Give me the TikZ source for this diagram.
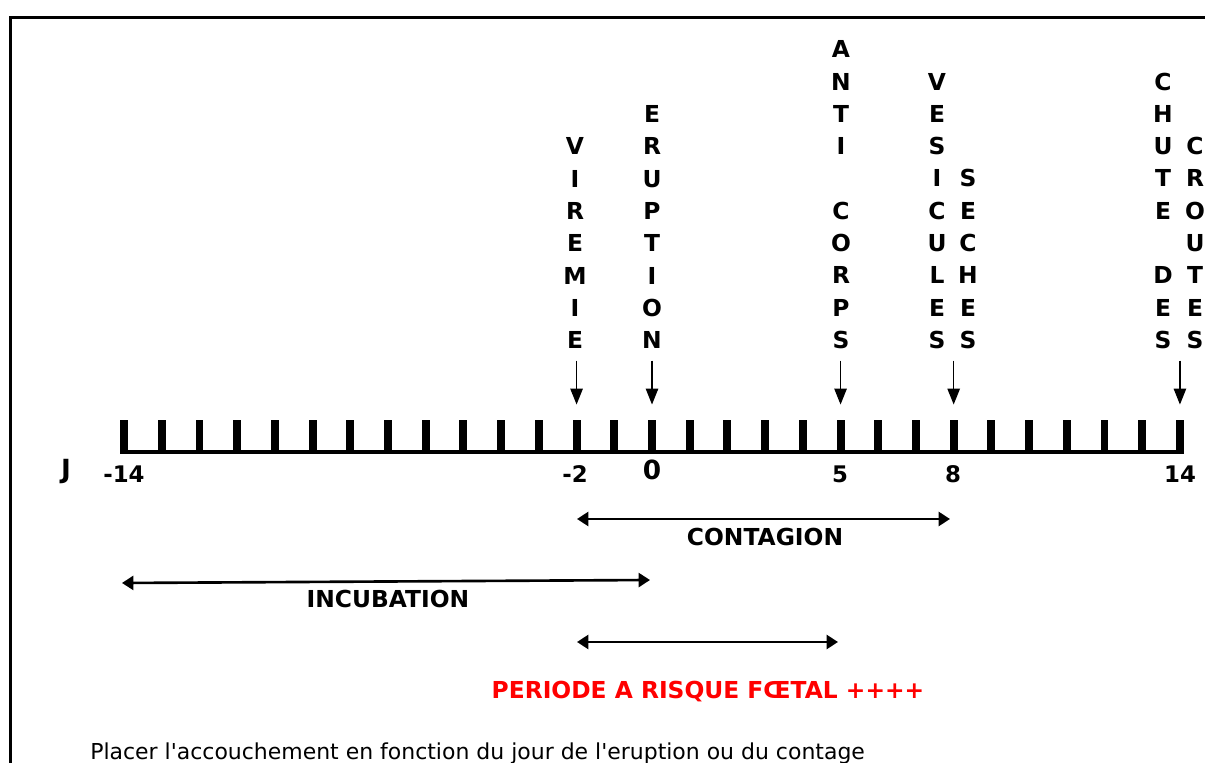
\documentclass[tikz,border=0pt]{standalone}
\usepackage{fontspec}
\setmainfont{DejaVu Sans}
\usetikzlibrary{arrows.meta}

\begin{document}
\begin{tikzpicture}[x=0.02cm, y=-0.02cm,
        vword/.style={font=\bfseries\fontsize{13.3}{18.37}\selectfont, align=center, inner sep=0pt, anchor=south},
        daylabel/.style={font=\bfseries\fontsize{13}{15}\selectfont, inner sep=0pt},
        bigday/.style={font=\bfseries\fontsize{15}{17}\selectfont, inner sep=0pt},
        tickmark/.style={line width=4.5pt},
        pointer/.style={line width=0.85pt, -{Triangle[length=9pt, width=7pt]}},
        span/.style={line width=1.5pt, {Triangle[length=6.5pt, width=8pt]}-{Triangle[length=6.5pt, width=8pt]}},
        spanlabel/.style={font=\bfseries\fontsize{13.3}{15}\selectfont, inner sep=0pt}
    ]
    \useasboundingbox (0,0) rectangle (1205,763);

    % Cadre
    \draw[line width=1.7pt] (10.7,763) -- (10.7,17.5) -- (1205,17.5);

    % Axe des jours
    \foreach \d in {-14,...,14}
        \coordinate (d\d) at ({652+37.71*\d},452);
    \draw[line width=2.8pt] ([xshift=-2.3pt]d-14) -- ([xshift=2.3pt]d14);
    \foreach \d in {-14,...,14}
        \draw[tickmark] (d\d) -- ++(0,-32);

    % Jours
    \node[bigday] (jour) at (66,472) {J};
    \node[daylabel] (lm14) at (124,474) {-14};
    \node[daylabel] (lm2) at (575,474) {-2};
    \node[bigday] (l0) at (652,470) {0};
    \node[daylabel] (l5) at (840,474) {5};
    \node[daylabel] (l8) at (953,474) {8};
    \node[daylabel] (l14) at (1180,474) {14};

    % Mots verticaux
    \node[vword] (vir) at (575,349) {V\\I\\R\\E\\M\\I\\E};
    \node[vword] (erup) at (652,349) {E\\R\\U\\P\\T\\I\\O\\N};
    \node[vword] (anti) at (841,349) {A\\N\\T\\I\\~\\C\\O\\R\\P\\S};
    \node[vword] (vesi) at (937,349) {V\\E\\S\\I\\C\\U\\L\\E\\S};
    \node[vword] (sech) at (968,349) {S\\E\\C\\H\\E\\S};
    \node[vword] (chut) at (1163,349) {C\\H\\U\\T\\E\\~\\D\\E\\S};
    \node[vword] (crou) at (1195,349) {C\\R\\O\\U\\T\\E\\S};

    % Fleches vers l'axe
    \foreach \d in {-2,0,5,8,14}
        \draw[pointer] ([yshift=52pt]d\d) -- ([yshift=27pt]d\d);

    % Periodes
    \coordinate (contL) at (577,519);
    \coordinate (contR) at (950,519);
    \draw[span] (contL) -- (contR);
    \node[spanlabel] (cont) at (765,537) {CONTAGION};

    \coordinate (incuL) at (122,583);
    \coordinate (incuR) at (650,580);
    \draw[span] (incuL) -- (incuR);
    \node[spanlabel] (incu) at (388,599) {INCUBATION};

    \coordinate (risqL) at (577,642);
    \coordinate (risqR) at (838,642);
    \draw[span] (risqL) -- (risqR);
    \node[spanlabel, text=red] (risq) at (708,692) {PERIODE A RISQUE FŒTAL ++++};

    % Note
    \node[font=\fontsize{12.5}{15}\selectfont, anchor=base west, inner sep=0pt] (note) at (90,760)
        {Placer l\textquotesingle accouchement en fonction du jour de l\textquotesingle eruption ou du contage};
\end{tikzpicture}
\end{document}
